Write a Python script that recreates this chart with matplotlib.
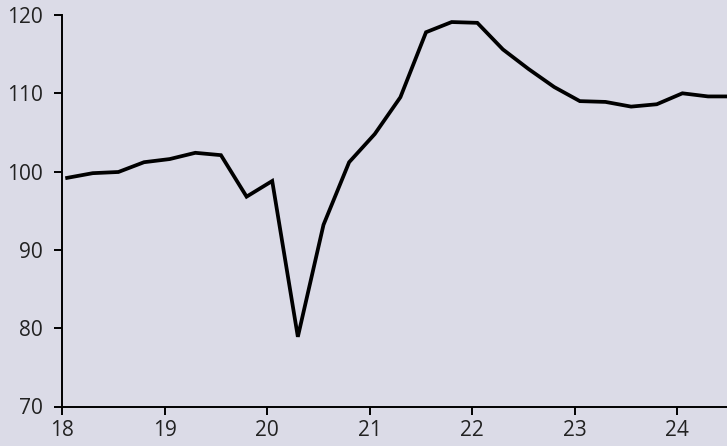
import numpy as np
import matplotlib
matplotlib.use('agg')
import matplotlib.pyplot as plt

# quarterly index, x in years since 2000 (slightly offset into the quarter)
x = np.arange(18.05, 24.56, 0.25)
y = [99.2, 99.8, 99.95, 101.2, 101.6, 102.4, 102.1, 96.8,
     98.8, 78.9, 93.2, 101.2, 104.8, 109.5, 117.8, 119.1,
     119.0, 115.6, 113.1, 110.8, 109.0, 108.9, 108.3, 108.6,
     110.0, 109.6, 109.6]
xticks = [18, 19, 20, 21, 22, 23, 24]
yticks = [70, 80, 90, 100, 110, 120]

bg = '#dbdbe7'
plt.rcParams['font.family'] = ['Open Sans', 'DejaVu Sans']

f = plt.figure(figsize=(7.27, 4.46), dpi=100)
f.patch.set_facecolor(bg)
ax = f.add_axes([62/727, 39.5/446, 1-62/727, 391.5/446])
ax.set_facecolor(bg)

ax.plot(x[:len(y)], y, color='black', lw=2.7, solid_joinstyle='miter', clip_on=True)

ax.set_xlim(18, 24.485)
ax.set_ylim(70, 120)
ax.set_xticks(xticks)
ax.set_xticklabels([str(t) for t in xticks])
ax.set_yticks(yticks)
ax.set_yticklabels([str(t) for t in yticks])

for s in ['top', 'right']:
    ax.spines[s].set_visible(False)
for s in ['left', 'bottom']:
    ax.spines[s].set_linewidth(1.4)
    ax.spines[s].set_color('black')
ax.tick_params(axis='both', length=5.5, width=1.4, color='black',
               labelsize=15, labelcolor='#222222')
ax.tick_params(axis='y', pad=8.5)
ax.tick_params(axis='x', pad=4)

plt.savefig('out.png', dpi=100, facecolor=bg)
plt.close()
